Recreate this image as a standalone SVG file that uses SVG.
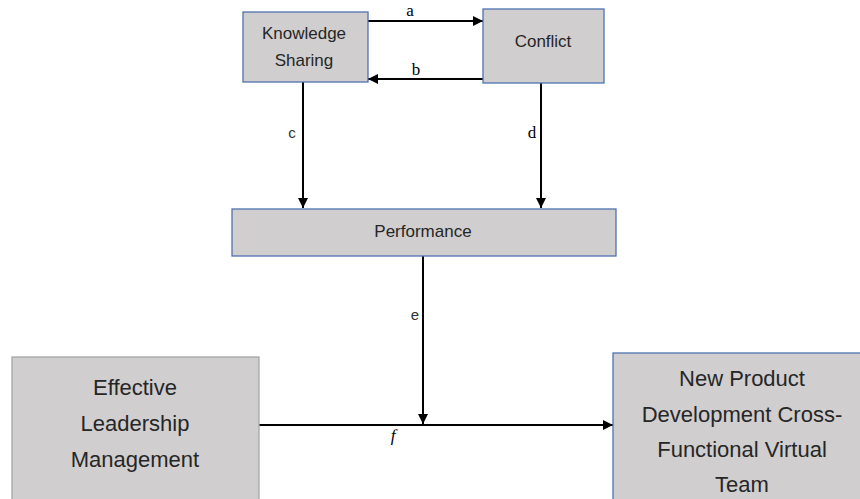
<svg xmlns="http://www.w3.org/2000/svg" width="860" height="499" viewBox="0 0 860 499">
<style>
.box{fill:#d0cece;stroke:#4f72b0;stroke-width:1.3}
.boxg{fill:#d0cece;stroke:#a6a6a6;stroke-width:1.3}
.t{font-family:"Liberation Sans",Arial,sans-serif;fill:#262626;text-anchor:middle}
.s{font-size:17px}
.b{font-size:22px}
.lbl{font-family:"Liberation Serif","Times New Roman",serif;font-size:17px;fill:#000;text-anchor:middle}
.lbls{font-family:"Liberation Sans",Arial,sans-serif;font-size:15px;fill:#333;text-anchor:middle}
.ln{stroke:#000;stroke-width:2;fill:none;marker-end:url(#ah)}
</style>
<defs>
<marker id="ah" markerUnits="userSpaceOnUse" markerWidth="10" markerHeight="10" refX="10" refY="5" orient="auto" viewBox="0 0 10 10">
<path d="M0,0 L10,5 L0,10 z" fill="#000"/>
</marker>
</defs>
<rect width="860" height="499" fill="#fff"/>
<g id="connectors">
<line class="ln" x1="368" y1="21" x2="483" y2="21"/>
<line class="ln" x1="483" y1="79" x2="368" y2="79"/>
<line class="ln" x1="303" y1="82" x2="303" y2="208"/>
<line class="ln" x1="541" y1="83" x2="541" y2="208"/>
<line class="ln" x1="423" y1="256" x2="423" y2="424"/>
<line class="ln" x1="259" y1="425" x2="613" y2="425"/>
<text class="lbl" x="410" y="16">a</text>
<text class="lbl" x="416" y="75">b</text>
<text class="lbls" x="292" y="138">c</text>
<text class="lbl" x="532" y="138">d</text>
<text class="lbls" x="415" y="320">e</text>
<text class="lbl" x="393" y="441" font-style="italic">f</text>
</g>
<g id="knowledge-sharing">
<rect class="box" x="243" y="12" width="125" height="70"/>
<text class="t s" x="304" y="39">Knowledge</text>
<text class="t s" x="304" y="66">Sharing</text>
</g>
<g id="conflict">
<rect class="box" x="483" y="9" width="121" height="74"/>
<text class="t s" x="543" y="47">Conflict</text>
</g>
<g id="performance">
<rect class="box" x="232" y="209" width="384" height="47"/>
<text class="t s" x="423" y="237">Performance</text>
</g>
<g id="effective-leadership">
<rect class="boxg" x="12" y="357" width="247" height="150"/>
<text class="t b" x="135" y="395">Effective</text>
<text class="t b" x="135" y="431">Leadership</text>
<text class="t b" x="135" y="467">Management</text>
</g>
<g id="npd-team">
<rect class="box" x="613" y="353" width="258" height="160"/>
<text class="t b" x="742" y="386">New Product</text>
<text class="t b" x="742" y="422">Development Cross-</text>
<text class="t b" x="742" y="457">Functional Virtual</text>
<text class="t b" x="742" y="492">Team</text>
</g>
</svg>
